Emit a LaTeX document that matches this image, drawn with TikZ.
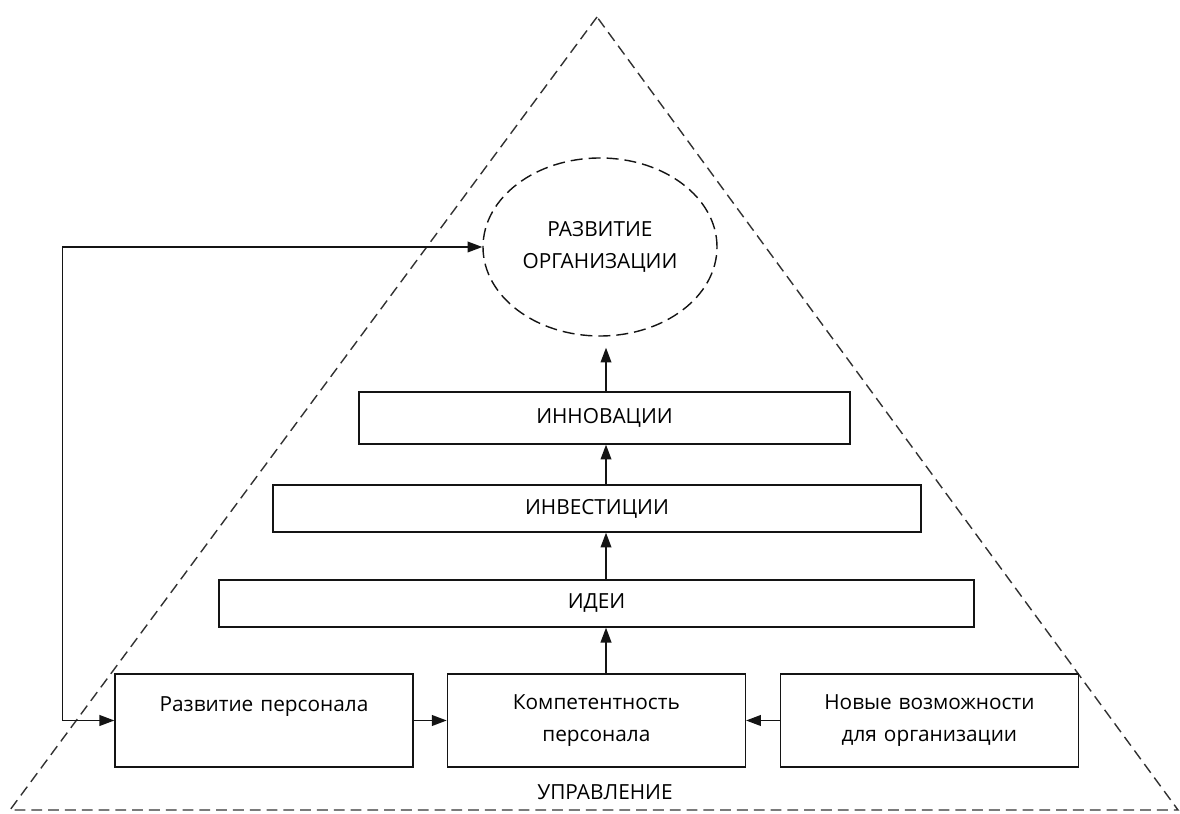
\documentclass[tikz,border=0pt]{standalone}
\usepackage{fontspec}
\setmainfont{Open Sans}
\usepackage{tikz}
\usetikzlibrary{shapes.geometric, arrows.meta, positioning}
\definecolor{mydark}{RGB}{20,20,20}
\definecolor{mygray}{RGB}{50,50,50}
\newcommand{\diagfont}{\fontsize{14.8}{23}\selectfont}
\tikzset{
  stage/.style={rectangle, draw=mydark, fill=white,
    align=center, minimum height=1.175cm, inner sep=0pt,
    font=\diagfont, line width=1pt},
  basebox/.style={rectangle, draw=mydark, fill=white,
    text width=7.2cm, align=center, minimum width=7.45cm,
    minimum height=2.325cm, inner sep=0pt,
    font=\diagfont, line width=1pt},
  goal/.style={ellipse, draw=mydark, dash pattern=on 0.3cm off 0.15cm,
    minimum width=5.85cm, minimum height=4.45cm, inner sep=0pt,
    align=center, font=\diagfont, line width=1pt},
  pyramid/.style={draw=mygray, dash pattern=on 0.27cm off 0.15cm, line width=1pt},
  arrow/.style={-{Triangle[length=0.37cm, width=0.27cm]}, line width=1pt, color=mydark}
}

\begin{document}
\begin{tikzpicture}
  \useasboundingbox (0,0) rectangle (29.5,20.35);
  % pyramid outline
  \coordinate (apex) at (14.925,19.925);
  \coordinate (bl) at (0.25,0.1);
  \coordinate (br) at (29.45,0.1);
  \draw[pyramid] (apex) -- (bl) -- (br) -- cycle;

  \node[goal] (org) at (15.0,14.175) {РАЗВИТИЕ\\ОРГАНИЗАЦИИ};
  \node[stage, minimum width=12.275cm, minimum height=1.3cm] (innov) at (15.1125,9.9) {ИННОВАЦИИ};
  \node[stage, minimum width=16.2cm] (invest) at (14.925,7.6375) {ИНВЕСТИЦИИ};
  \node[stage, minimum width=18.875cm] (idei) at (14.9125,5.2625) {ИДЕИ};

  \node[basebox] (razv) at (6.6,2.3375) {Развитие персонала\\\mbox{}};
  \node[basebox] (komp) at (14.91,2.3375) {Компетентность\\персонала};
  \node[basebox] (vozm) at (23.235,2.3375) {Новые возможности\\для организации};
  \node[font=\diagfont] (upr) at (15.125,0.55) {УПРАВЛЕНИЕ};

  % arrows
  \coordinate (col) at (15.15,0);
  \draw[arrow] (komp.north -| col) -- (idei.south -| col);
  \draw[arrow] (idei.north -| col) -- (invest.south -| col);
  \draw[arrow] (invest.north -| col) -- (innov.south -| col);
  \draw[arrow, shorten >=0.275cm] (innov.north -| col) -- (org.south -| col);
  \draw[arrow] (razv) -- (komp);
  \draw[arrow] (vozm) -- (komp);
  \draw[arrow, {Triangle[length=0.37cm, width=0.27cm]}-{Triangle[length=0.37cm, width=0.27cm]}] (razv.west) -- ++(-1.3,0) |- (org.west);
\end{tikzpicture}
\end{document}
